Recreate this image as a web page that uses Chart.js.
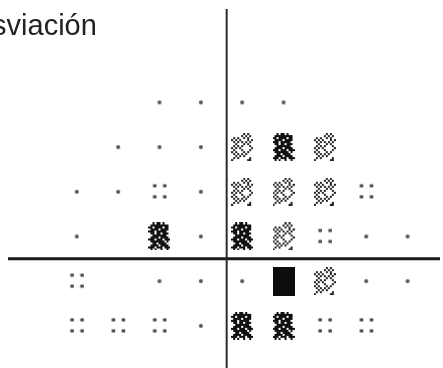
<!DOCTYPE html>
<html>
<head>
<meta charset="utf-8">
<script src="https://cdn.jsdelivr.net/npm/chart.js@4.4.1/dist/chart.umd.min.js"></script>
<style>
  html, body { margin: 0; padding: 0; background: #ffffff; }
  #wrap { width: 443px; height: 368px; overflow: hidden; }
</style>
</head>
<body>
<div id="wrap"><canvas id="field" width="443" height="368"></canvas></div>
<script>
// Test locations (degrees) and probability symbols per row.
// Symbol codes: 0 = normal, 1 = p<5%, 2 = p<2%, 3 = p<1%, 4 = p<0.5%, null = no test point
const columns = [-27, -21, -15, -9, -3, 3, 9, 15, 21, 27];
const rowDegrees = [21, 15, 9, 3, -3, -9];
const rowPlus21  = [null, null, null, 0, 0, 0, 0, null, null, null];
const rowPlus15  = [null, null, 0, 0, 0, 2, 3, 2, null, null];
const rowPlus9   = [null, 0, 0, 1, 0, 2, 2, 2, 1, null];
const rowPlus3   = [null, 0, null, 3, 0, 3, 2, 1, 0, 0];
const rowMinus3  = [null, 1, null, 0, 0, 0, 4, 2, 0, 0];
const rowMinus9  = [null, 1, 1, 1, 0, 3, 3, 1, 1, null];
const fieldRows = [rowPlus21, rowPlus15, rowPlus9, rowPlus3, rowMinus3, rowMinus9];
const plotTitle = 'Desviación';

// ---- symbol bitmaps (2px cells) ----
const lightBits = [
  '......#.#..',
  '.....#.#.#.',
  '.#.#..#.#..',
  '#.#.#...#.#',
  '.#.#.#.#.#.',
  '..#...#.#..',
  '.#.#.#...#.',
  '#.#.#.....#',
  '.#...#...#.',
  '#.#...#.#..',
  '.#.#.#.#...',
  '..#.#.#....',
  '.#.#.....#.',
  '#.......##.'
];
const darkBits = [
  '..#.##.#...',
  '.#########.',
  '##.####.##.',
  '.####.####.',
  '###.#####..',
  '.##.##.###.',
  '..#######..',
  '.####.####.',
  '###.###.###',
  '.#######.#.',
  '..##.####..',
  '.####.####.',
  '###.###.###',
  '.#.#..#..#.'
];

function makeCanvas(w, h) {
  const c = document.createElement('canvas');
  c.width = w; c.height = h;
  return c;
}
function bitmapSymbol(bits, color) {
  const cell = 2;
  const c = makeCanvas(bits[0].length * cell, bits.length * cell);
  const g = c.getContext('2d');
  g.fillStyle = color;
  bits.forEach((line, r) => {
    for (let k = 0; k < line.length; k++) {
      if (line[k] === '#') g.fillRect(k * cell, r * cell, cell, cell);
    }
  });
  return c;
}
function dotSymbol() {
  const c = makeCanvas(8, 8);
  const g = c.getContext('2d');
  g.fillStyle = '#555555';
  g.beginPath(); g.arc(4, 4, 2, 0, Math.PI * 2); g.fill();
  return c;
}
function fourDotSymbol() {
  const c = makeCanvas(18, 20);
  const g = c.getContext('2d');
  g.fillStyle = '#444444';
  [[4, 4], [14, 4], [4, 15], [14, 15]].forEach(([x, y]) => {
    g.fillRect(x - 1.5, y - 1.5, 3.5, 3);
  });
  return c;
}
function solidSymbol() {
  const c = makeCanvas(22, 29);
  const g = c.getContext('2d');
  g.fillStyle = '#0d0d0d';
  g.fillRect(0, 0, 22, 29);
  return c;
}
const symbols = [
  dotSymbol(),
  fourDotSymbol(),
  bitmapSymbol(lightBits, '#262626'),
  bitmapSymbol(darkBits, '#111111'),
  solidSymbol()
];

// Build scatter points from the row arrays
const points = [];
fieldRows.forEach((row, r) => {
  row.forEach((level, c) => {
    if (level !== null) points.push({ x: columns[c], y: rowDegrees[r], level });
  });
});

// Axes crossing drawn behind the symbols
const crossAxes = {
  id: 'crossAxes',
  beforeDatasetsDraw(chart, args, opts) {
    const { ctx, scales } = chart;
    const px = scales.x.getPixelForValue(opts.x);
    const py = scales.y.getPixelForValue(opts.y);
    ctx.save();
    ctx.strokeStyle = '#1a1a1a';
    ctx.lineWidth = 3;
    ctx.beginPath(); ctx.moveTo(8, py); ctx.lineTo(440, py); ctx.stroke();
    ctx.strokeStyle = '#2a2a2a';
    ctx.lineWidth = 2;
    ctx.beginPath(); ctx.moveTo(px, 9); ctx.lineTo(px, chart.height); ctx.stroke();
    ctx.restore();
  }
};
const cornerTitle = {
  id: 'cornerTitle',
  afterDraw(chart, args, opts) {
    const { ctx } = chart;
    ctx.save();
    ctx.font = "29px 'Liberation Sans', Arial, sans-serif";
    ctx.fillStyle = '#222222';
    ctx.textBaseline = 'alphabetic';
    ctx.fillText(opts.text, opts.left, opts.baseline);
    ctx.restore();
  }
};

new Chart(document.getElementById('field'), {
  type: 'scatter',
  data: {
    datasets: [{
      data: points,
      pointStyle: ctx => symbols[ctx.raw.level],
      pointRadius: 12,
      pointHoverRadius: 12,
      borderWidth: 0,
      backgroundColor: '#000'
    }]
  },
  options: {
    responsive: false,
    animation: false,
    layout: { padding: 0 },
    events: [],
    scales: {
      x: { type: 'linear', display: false, min: -30.4, max: 30.4 },
      y: { type: 'linear', display: false, min: -13.05, max: 33.14 }
    },
    plugins: {
      legend: { display: false },
      tooltip: { enabled: false },
      crossAxes: { x: 0.75, y: 0 },
      cornerTitle: { text: plotTitle, left: -45, baseline: 35 }
    }
  },
  plugins: [crossAxes, cornerTitle]
});
</script>
</body>
</html>
